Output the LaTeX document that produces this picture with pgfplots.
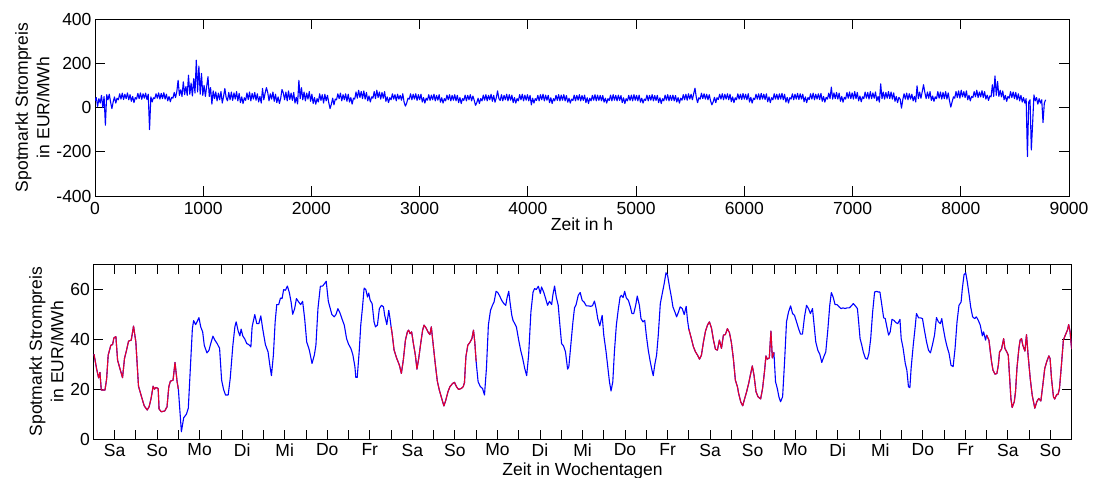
\documentclass[border=0pt]{standalone}
\usepackage{pgfplots}
\usepackage{pgfplotstable}
\pgfplotsset{compat=1.18}
\usepackage{fontspec}
\setmainfont{Liberation Sans}
\definecolor{mblue}{RGB}{0,0,255}
\definecolor{mred}{RGB}{228,0,45}

% hourly spot price over the year, one value every 12 h (one week per line)
\pgfplotstableread[row sep=\\]{
p\\
30\\45\\5\\40\\20\\55\\0\\50\\-80\\58\\35\\60\\25\\-5\\
25\\48\\20\\42\\35\\62\\38\\65\\36\\60\\40\\66\\35\\58\\
28\\50\\22\\45\\38\\64\\40\\66\\37\\62\\42\\65\\36\\60\\
-100\\48\\25\\44\\40\\62\\42\\66\\38\\64\\40\\67\\38\\60\\
30\\50\\26\\46\\42\\68\\45\\72\\123\\55\\80\\50\\116\\58\\
95\\55\\146\\60\\110\\52\\130\\65\\214\\70\\187\\60\\154\\55\\
100\\50\\95\\139\\50\\90\\15\\75\\40\\70\\30\\65\\35\\72\\
20\\50\\86\\45\\30\\68\\35\\70\\32\\66\\38\\72\\30\\64\\
22\\48\\18\\44\\32\\66\\36\\70\\30\\64\\38\\68\\33\\62\\
25\\50\\20\\86\\35\\65\\90\\68\\30\\62\\38\\70\\28\\60\\
22\\48\\18\\42\\81\\66\\35\\70\\30\\75\\36\\65\\32\\68\\
20\\46\\16\\123\\40\\90\\35\\70\\30\\65\\38\\72\\28\\60\\
18\\45\\15\\40\\25\\62\\32\\58\\20\\60\\30\\55\\22\\-5\\
15\\42\\12\\38\\35\\62\\40\\65\\30\\58\\35\\62\\28\\60\\
25\\45\\15\\42\\38\\70\\42\\78\\45\\72\\40\\75\\38\\68\\
30\\52\\25\\48\\42\\72\\40\\78\\45\\70\\38\\68\\42\\72\\
28\\48\\22\\44\\35\\62\\38\\58\\30\\60\\38\\55\\33\\62\\
25\\6\\20\\42\\38\\62\\35\\60\\38\\62\\32\\58\\35\\60\\
25\\45\\20\\42\\33\\58\\32\\56\\35\\60\\30\\55\\33\\58\\
24\\44\\20\\40\\30\\56\\35\\58\\30\\55\\33\\58\\30\\55\\
22\\45\\18\\40\\32\\56\\30\\55\\35\\58\\30\\52\\33\\10\\
22\\42\\18\\40\\30\\56\\33\\58\\30\\55\\35\\60\\28\\55\\
24\\44\\75\\40\\32\\58\\30\\55\\35\\60\\30\\58\\33\\56\\
22\\45\\20\\40\\30\\58\\35\\60\\30\\56\\33\\58\\30\\55\\
12\\42\\20\\40\\32\\55\\30\\58\\35\\60\\30\\56\\33\\55\\
22\\44\\18\\40\\30\\55\\32\\58\\30\\56\\33\\58\\30\\54\\
24\\42\\20\\38\\32\\56\\30\\55\\33\\58\\30\\54\\32\\56\\
22\\44\\18\\42\\30\\55\\33\\58\\30\\56\\32\\55\\30\\54\\
24\\42\\20\\40\\32\\56\\30\\58\\33\\55\\30\\56\\32\\54\\
22\\44\\18\\40\\30\\55\\32\\56\\30\\58\\33\\55\\30\\56\\
24\\42\\20\\38\\32\\56\\30\\55\\33\\58\\30\\54\\32\\55\\
22\\44\\18\\40\\30\\56\\33\\58\\30\\55\\32\\56\\30\\54\\
25\\45\\20\\42\\33\\58\\35\\60\\33\\62\\38\\60\\35\\62\\
87\\46\\22\\44\\38\\65\\40\\62\\38\\60\\35\\58\\30\\12\\
25\\46\\22\\44\\36\\60\\38\\62\\35\\60\\38\\62\\35\\60\\
26\\48\\22\\44\\35\\62\\38\\60\\36\\63\\38\\60\\35\\62\\
25\\46\\20\\42\\36\\60\\38\\62\\35\\64\\38\\60\\36\\62\\
26\\48\\22\\44\\35\\62\\38\\60\\36\\62\\38\\64\\35\\60\\
24\\46\\20\\44\\38\\62\\35\\60\\38\\64\\36\\62\\38\\60\\
26\\48\\22\\45\\36\\62\\38\\65\\35\\60\\38\\62\\36\\64\\
28\\50\\24\\46\\38\\65\\40\\92\\38\\66\\40\\68\\38\\65\\
28\\50\\24\\46\\38\\68\\42\\70\\40\\66\\38\\72\\40\\68\\
30\\52\\26\\48\\40\\70\\42\\68\\38\\72\\40\\66\\42\\70\\
30\\50\\24\\107\\40\\70\\38\\68\\42\\72\\40\\70\\38\\66\\
28\\50\\22\\46\\38\\-3\\35\\62\\38\\65\\35\\62\\38\\60\\
30\\50\\25\\98\\40\\70\\42\\72\\103\\68\\40\\70\\42\\72\\
32\\52\\28\\48\\40\\72\\42\\70\\38\\68\\40\\72\\38\\66\\
30\\2\\25\\48\\42\\72\\45\\75\\42\\78\\48\\72\\45\\75\\
35\\55\\30\\50\\45\\72\\48\\78\\45\\70\\48\\76\\45\\72\\
38\\56\\32\\52\\48\\103\\50\\143\\55\\118\\50\\78\\48\\75\\
35\\55\\28\\50\\42\\72\\45\\70\\40\\68\\35\\62\\30\\55\\
25\\45\\20\\40\\-222\\25\\35\\-192\\-71\\57\\30\\45\\15\\40\\
20\\35\\-68\\20\\35\\
}\yeardata

% hourly spot price over 23 days (Sa ... So)
\pgfplotstableread{
h p
0.4 34
1.9 28
3.0 24.5
3.75 26.7
4.5 19.7
6.6 19.7
7.5 24
8.4 33.6
9.9 37.6
10.9 37.8
11.6 40.5
12.75 41
13.7 31.6
15 28.3
16.5 24.6
17.6 32.3
18.75 35.6
19.9 39.2
21.4 39.6
22.7 45.2
24 38.9
25.5 21.2
27.2 17
28.7 13.4
30.4 11.7
31.5 13
32.6 16.3
33.75 21.2
34.5 20
35.25 20.7
36.6 20.3
37.1 12.1
38.4 11
40.3 11.3
41.6 13
42.6 21
43.5 23.2
45 23.6
46.1 30.7
47.25 23.2
48 20
49 10
49.7 3
51 8.6
52.5 10
53.6 12.4
54.75 28.3
55.9 44.2
56.6 47.4
57.75 45.8
58.5 46.9
59.6 48.6
60.6 44.9
61.7 42.9
62.6 37.6
64.1 34.5
65.25 35.5
66.4 38.6
67.5 41.2
68.6 39.6
69.9 38.2
71.25 36.3
72.4 23.6
73.5 19.9
74.6 17.7
76.1 17.7
77.25 24.3
78.75 37.6
79.9 45
80.6 46.9
81.75 43.2
82.7 41.3
83.4 44
84.4 41.2
85.5 40
86.6 38.2
87.75 37.8
88.9 36.9
89.6 44.9
91.1 49.8
92.25 46.2
93.4 46.2
94.5 49.3
95.6 44
97.1 37.8
98.6 34.9
99.6 29.6
100.5 25.4
101.6 33.6
102.6 46.9
103.5 53.8
104.6 53.8
105.6 56.4
106.5 56.2
107.4 59.8
108.4 59.5
109.5 61.2
110.6 58.6
111.6 54.8
112.5 49.9
113.6 52.2
114.6 56.2
115.9 54.8
117 53.8
118.1 55.1
119.25 48.2
120.4 38.9
121.9 35.6
123.4 30.3
124.7 33.6
125.6 37.6
126.75 52.2
128.1 61.1
129.4 61.2
130.5 62.2
131.4 63.1
132.6 55.1
133.7 52.2
134.6 49.8
135.9 48.9
136.9 49.8
138 52.2
139.1 50.6
140.25 48.2
141.6 45.6
142.9 40.2
144 38
145.3 36.3
146.4 33.9
147.6 29
148.1 24.7
148.9 24.7
150 34.9
150.9 45.6
151.9 52.9
152.8 60.4
153.75 59.8
154.7 56.8
155.4 58.4
156.2 55.5
157.3 54.2
158.4 46.9
159.2 44.9
160.3 45.6
161.4 52.2
162.6 53.5
163.7 52.9
164.4 49.5
165.6 45.8
166.7 51.5
167.4 48.2
168 45
168.6 42.2
169.7 35.6
171.2 32.3
172.7 29.6
173.8 26.3
174.9 31.6
176.1 39.6
177.2 42.9
177.9 43.6
178.7 42.2
179.6 42.9
180.6 38.2
181.7 33.6
182.6 28
183.6 32.3
184.7 38.2
185.8 43.6
186.6 45.6
187.7 44.5
188.8 42.9
189.9 41.8
190.7 44.9
191.8 37.6
192.9 30.3
194.1 23.2
195.2 19.7
196.3 17
197.8 13.3
198.9 15.7
200.1 19
201.2 21
202.7 22.3
203.8 22.7
204.9 21
206.1 19.9
207.6 20.3
208.7 21
209.4 22.6
210.2 32.9
211.3 37.6
212.4 38.6
213.6 40.2
214.5 43.6
215.25 38.6
216 31
217.1 23
218.4 21
219.6 20.3
220.7 17.7
221.8 28.3
222.9 45.6
224.1 51.5
225.2 53.5
226.1 54.8
227.25 59.1
228.2 58.6
229.3 57.2
230.4 55.5
231.6 54.2
232.7 53.5
233.4 56.4
234.4 59.1
235.1 54.8
236.1 49.5
236.8 47.5
237.75 46.2
238.7 44.9
240 39.6
241.1 35.6
242.25 32.3
243.4 28.3
244.5 25.4
245.6 33.6
246.9 50.9
248.1 58.8
249 60.2
249.9 59.8
251.1 61.1
252.2 58.2
252.9 60.8
254.1 58.8
255.2 56.2
256.3 53.5
257.4 55.1
258.6 53.8
259.3 57.7
260.25 61.2
261.2 56.8
262.3 53.5
263.25 45.6
264.2 38.2
265.3 37.3
266.4 34.9
267.6 28
268.3 29
269.4 37.6
270.6 46.9
271.5 52.5
272.4 53.8
273.6 57.5
274.7 58.6
275.8 55.5
276.9 54.8
278.1 53.3
279.2 53.3
280.5 53.1
281.6 53.3
282.75 55.2
283.7 52.2
284.6 48.2
285.75 45.3
287.1 49.5
288 41.6
289.3 34.9
290.25 29
291.2 23
292.1 19.3
293.1 23
294 34.9
295.1 45.6
296.25 52.2
297.2 56.8
297.9 57.5
298.9 56.6
299.8 59.1
300.75 56.4
301.9 55.5
303 52.9
303.9 50.2
304.9 50.2
306 53.5
306.9 57.2
308.1 53.5
309 48.2
310.1 46.9
311.1 47.5
312 41.6
313.1 35.6
314.25 30.9
315.2 27.6
315.9 25.4
316.9 30.3
317.8 33.6
318.75 41.6
319.9 54.2
321 58.2
322.1 62.2
323.1 66.5
324 65.5
325.1 60.8
326.25 56.4
327 52.9
328.1 50.9
329.1 48.9
330.2 50.9
331.1 52.9
332.25 52.2
333.4 49.8
334.5 53.1
335.25 47.5
336 44
337.5 40
338.6 36.9
339.75 34.9
340.9 33.6
342 32
343.1 33.6
344.25 38.9
345.4 43.2
346.5 45.6
347.6 46.9
348.75 44.5
349.9 39.6
351 36
352.1 35.6
353.25 39.6
354.4 36.3
355.5 41.6
356.6 41.8
357.75 44.2
358.9 42.6
360 38.6
361.1 32.3
362.25 23.6
363.4 21
364.1 18.3
365.25 15
366.4 13.4
367.5 16.3
368.6 19
369.75 22.3
370.9 26.3
371.8 29.3
372.75 25.6
373.9 19
375 17
376.5 16.1
377.6 20.3
378.75 27.6
379.5 33.3
380.25 32
381.4 32.5
382.3 43.2
383.1 32.5
384 34.7
384.9 23
385.9 20.3
386.8 17
387.75 15
388.9 17
390 30.9
391.1 46.9
392.25 50.9
393.4 53.3
394.5 50.2
395.6 49.5
396.75 46.9
397.9 44.2
399 42
400.1 42
401.25 48.9
402.4 53.5
403.5 52.2
404.6 50.2
405.75 52.2
406.5 46.9
407.6 38.9
408.75 35.6
409.9 33.9
411 30.7
412.1 32.9
413.25 34.9
414.4 43.6
415.5 53.5
416.4 58.6
417.4 56.8
418.5 53.8
419.6 53.8
420.75 52.9
421.9 52.2
423 52.5
424.1 52.2
425.25 52.5
426.6 52.5
427.7 53.3
428.8 54.2
429.9 53.3
431.1 52.2
431.8 46.9
432.6 40.2
433.5 37.8
434.4 34.9
435.6 32.3
436.7 32
437.6 34.3
438.6 40.2
439.7 50.9
440.8 58.8
441.9 59.1
442.9 58.8
443.8 58.8
444.9 53.5
445.9 48.5
446.8 48.2
447.6 45.3
448.7 41.6
449.6 42.9
450.6 47.9
451.7 47.5
452.8 46.6
453.9 46.2
455.1 47.9
455.8 40.2
456.9 36.3
458.1 30.3
459 27.6
459.9 21
460.7 20.6
461.4 28.3
462.6 37.6
463.7 44.9
464.4 50.2
465.6 48.5
466.7 48.5
467.8 48.2
468.9 43.6
470.1 38.9
471.2 35.6
472.3 34.5
473.4 37.6
474.6 41.6
475.7 48.6
476.8 46.9
477.9 46.2
478.7 48.2
479.4 44.9
480.6 40.2
481.7 36.9
482.8 34.3
483.9 29.6
485.1 29
486.2 36.3
487.3 46.9
488.4 53.5
489.6 54.8
490.3 60.2
491.25 65.7
492.2 66.5
493.1 62.8
494.1 57.8
495 52.9
496.1 48.9
497.25 48.2
498.2 48.9
499.3 47.5
500.4 45.6
501.6 41.3
502.3 42.9
503.4 39.6
504 41.6
505.3 39.6
506.1 34.9
506.8 30.9
507.6 27.6
508.7 26
509.8 26.3
510.6 29.6
511.3 34.9
512.4 36
513.6 40.2
514.3 36.3
515.4 34.9
516.2 33.6
516.9 25.6
517.7 16.3
518.4 12.7
519.6 15
520.3 19
521.1 28.3
522.2 36.3
522.9 39.6
523.7 40.2
524.4 37.6
525.6 35.2
526.5 41.8
527.4 33.6
528.6 24.3
529.7 17.7
531.2 12.4
532.3 15
533.4 16.3
534.6 15.3
535.7 21.6
536.8 28.3
537.9 31
539.1 33.3
539.8 32.3
540.6 24.3
541.7 17
542.4 16.1
543.6 17.9
544.3 17.9
545.1 20.3
546.2 29.6
547.3 39.6
548.4 41.6
549.6 43.6
550.3 45.8
551.1 42.9
551.8 37.3
552 36
}\weekdata

\begin{document}
\begin{tikzpicture}
\useasboundingbox (0pt,0pt) rectangle (1096pt,477pt);
\pgfplotsset{every axis/.append style={
  font=\fontsize{17.5}{21.5}\selectfont,
  scale only axis,
  tick align=inside,
  tick pos=both,
  major tick length=9.5pt,
  minor tick length=9.5pt,
  /pgf/number format/assume math mode=true,
  axis line style={line width=0.8pt, black},
  every tick/.style={line width=0.8pt, black},
  ylabel style={align=center},
  scaled x ticks=false,
  scaled y ticks=false,
}}
\begin{axis}[
  at={(95pt,281pt)}, anchor=south west,
  width=974pt, height=177pt,
  xmin=0, xmax=9000, ymin=-400, ymax=400,
  xtick={0,1000,...,9000},
  ytick={-400,-200,0,200,400},
  xticklabel style={/pgf/number format/1000 sep={}, yshift=-2.5pt},
  xlabel style={yshift=3pt},
  xlabel={Zeit in h},
  ylabel={Spotmarkt Strompreis\\in EUR/MWh},
]
\addplot[mblue, line width=1.1pt, line join=round, mark=none]
  table[x expr=\coordindex*12, y=p] {\yeardata};
\end{axis}

\begin{axis}[
  at={(93.3pt,37.7pt)}, anchor=south west,
  width=978.4pt, height=175.3pt,
  xmin=0, xmax=552, ymin=0, ymax=70,
  xtick={12,36,...,540},
  xticklabels={Sa,So,Mo,Di,Mi,Do,Fr,Sa,So,Mo,Di,Mi,Do,Fr,Sa,So,Mo,Di,Mi,Do,Fr,Sa,So},
  minor xtick={24,48,...,528},
  ytick={0,20,40,60},
  xticklabel style={yshift=-1pt},
  xlabel style={yshift=0.5pt},
  xlabel={Zeit in Wochentagen},
  ylabel={Spotmarkt Strompreis\\in EUR/MWh},
]
\addplot[mblue, line width=1.1pt, line join=round, mark=none] table[x=h, y=p] {\weekdata};
\addplot[mred, line width=1.1pt, line join=round, mark=none, restrict x to domain=0:48] table[x=h, y=p] {\weekdata};
\addplot[mred, line width=1.1pt, line join=round, mark=none, restrict x to domain=168:216] table[x=h, y=p] {\weekdata};
\addplot[mred, line width=1.1pt, line join=round, mark=none, restrict x to domain=336:384] table[x=h, y=p] {\weekdata};
\addplot[mred, line width=1.1pt, line join=round, mark=none, restrict x to domain=504:552] table[x=h, y=p] {\weekdata};
\end{axis}
\end{tikzpicture}
\end{document}
